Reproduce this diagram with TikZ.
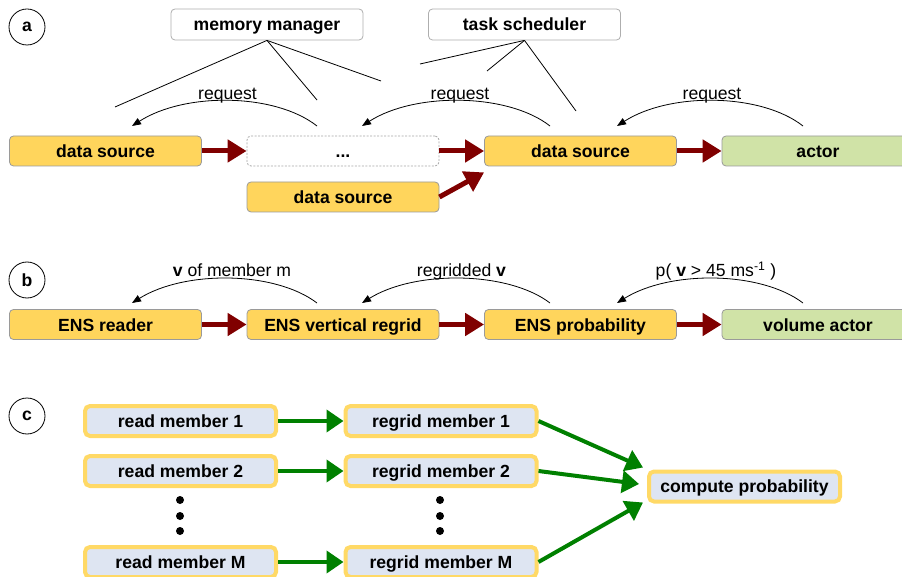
\documentclass[tikz,border=0pt]{standalone}
\usepackage{fontspec}
\setmainfont{Liberation Sans}
\usetikzlibrary{arrows.meta,calc}
\definecolor{boxyellow}{HTML}{FFD55C}
\definecolor{boxgreen}{HTML}{D0E3A7}
\definecolor{cfill}{HTML}{DEE5F2}
\definecolor{cborder}{HTML}{FFD966}
\definecolor{darkred}{HTML}{800000}
\definecolor{arrowgreen}{HTML}{008000}
\definecolor{boxgray}{HTML}{9A9A9A}
\begin{document}
\begin{tikzpicture}[x=1pt,y=-1pt,
 font=\fontsize{17.6}{20}\selectfont,
 every node/.style={inner sep=0pt},
 flowbox/.style={draw=boxgray, line width=0.8pt, rounded corners=4pt, minimum width=192pt, minimum height=30pt, text height=13pt, text depth=0pt, font=\bfseries\fontsize{17.6}{20}\selectfont},
 yelbox/.style={flowbox, fill=boxyellow},
 grnbox/.style={flowbox, fill=boxgreen},
 dotbox/.style={flowbox, fill=white, draw=gray!70, dash pattern=on 2pt off 1.5pt},
 topbox/.style={flowbox, fill=white, minimum height=31pt, draw=boxgray!80},
 membox/.style={draw=cborder, fill=cfill, line width=4pt, rounded corners=5pt, minimum width=191pt, minimum height=30pt, text height=12pt, text depth=0pt, font=\bfseries\fontsize{17.6}{20}\selectfont},
 panel/.style={circle, draw, line width=0.8pt, minimum size=36pt, font=\bfseries\fontsize{17.6}{20}\selectfont},
 flow/.style={draw=darkred, line width=5pt, -{Triangle[length=19pt,width=22pt]}},
 gflow/.style={draw=arrowgreen, line width=4pt, -{Triangle[length=17pt,width=22pt]}},
 req/.style={draw, line width=0.8pt, -{Triangle[length=9pt,width=7pt]}},
 link/.style={draw, line width=0.8pt},
 vdot/.style={circle, fill, minimum size=8pt},
 lbl/.style={anchor=base},
]
\useasboundingbox (0,0) rectangle (902,577);

% ---------- panel a ----------
\node[panel] (pa) at (27,27) {a};
\node[topbox] (mm) at (267,24.5) {memory manager};
\node[topbox] (ts) at (524.5,24.5) {task scheduler};
\coordinate (mm1) at (115,107);
\coordinate (mm2) at (317,100);
\coordinate (mm3) at (381,81);
\coordinate (ts1) at (420,64);
\coordinate (ts2) at (487,71);
\coordinate (ts3) at (576,111);
\draw[link] (mm.south) -- (mm1);
\draw[link] (mm.south) -- (mm2);
\draw[link] (mm.south) -- (mm3);
\draw[link] (ts.south) -- (ts1);
\draw[link] (ts.south) -- (ts2);
\draw[link] (ts.south) -- (ts3);

\coordinate (ra1s) at (317,126);
\coordinate (ra1e) at (132,126);
\coordinate (ra2s) at (550,126);
\coordinate (ra2e) at (362,126);
\coordinate (ra3s) at (803,126);
\coordinate (ra3e) at (617,126);
\draw[req] (ra1s) .. controls +(-42,-33) and +(53,-34) .. (ra1e);
\draw[req] (ra2s) .. controls +(-42,-33) and +(53,-34) .. (ra2e);
\draw[req] (ra3s) .. controls +(-42,-33) and +(53,-34) .. (ra3e);
\node[lbl] (la1) at (227.5,99.5) {request};
\node[lbl] (la2) at (460,99.5) {request};
\node[lbl] (la3) at (712,99.5) {request};

\node[yelbox] (a1) at (105.5,151) {data source};
\node[dotbox] (a2) at (343,151) {...};
\node[yelbox] (a3) at (580.5,151) {data source};
\node[grnbox] (a4) at (818,151) {actor};
\node[yelbox] (a5) at (343,197) {data source};
\draw[flow] (a1.east) -- (a2.west);
\draw[flow] (a2.east) -- (a3.west);
\draw[flow] (a3.east) -- (a4.west);
\draw[flow] (a5.east) -- ([shift={(0,6)}]a3.south west);

% ---------- panel b ----------
\node[panel] (pb) at (27,280) {b};
\coordinate (rb1s) at (317,303);
\coordinate (rb1e) at (132,303);
\coordinate (rb2s) at (550,303);
\coordinate (rb2e) at (362,303);
\coordinate (rb3s) at (803,303);
\coordinate (rb3e) at (617,303);
\draw[req] (rb1s) .. controls +(-42,-32) and +(53,-33) .. (rb1e);
\draw[req] (rb2s) .. controls +(-42,-32) and +(53,-33) .. (rb2e);
\draw[req] (rb3s) .. controls +(-42,-32) and +(53,-33) .. (rb3e);
\node[lbl] (lb1) at (232,276.5) {\textbf{v} of member m};
\node[lbl] (lb2) at (461.5,276.5) {regridded \textbf{v}};
\node[lbl] (lb3) at (716,276.5) {p( \textbf{v} > 45 ms\textsuperscript{-1} )};

\node[yelbox] (b1) at (105.5,324.5) {ENS reader};
\node[yelbox] (b2) at (343,324.5) {ENS vertical regrid};
\node[yelbox] (b3) at (580.5,324.5) {ENS probability};
\node[grnbox] (b4) at (818,324.5) {volume actor};
\draw[flow] (b1.east) -- (b2.west);
\draw[flow] (b2.east) -- (b3.west);
\draw[flow] (b3.east) -- (b4.west);

% ---------- panel c ----------
\node[panel] (pc) at (27,416) {c};
\node[membox] (r1) at (180.5,421) {read member 1};
\node[membox] (r2) at (180.5,471) {read member 2};
\node[membox] (rM) at (180.5,562) {read member M};
\node[membox] (g1) at (441,421) {regrid member 1};
\node[membox] (g2) at (441,471) {regrid member 2};
\node[membox] (gM) at (441,562) {regrid member M};
\node[membox] (cp) at (744.5,486.5) {compute probability};
\node[vdot] (d1) at (180,500) {};
\node[vdot] (d2) at (180,516) {};
\node[vdot] (d3) at (180,531) {};
\node[vdot] (e1) at (440,500) {};
\node[vdot] (e2) at (440,516) {};
\node[vdot] (e3) at (440,531) {};
\draw[gflow] (r1.east) -- (g1.west);
\draw[gflow] (r2.east) -- (g2.west);
\draw[gflow] (rM.east) -- (gM.west);
\draw[gflow] (g1.east) -- ([shift={(-4,-2)}]cp.north west);
\draw[gflow] (g2.east) -- ([shift={(-8,-2.5)}]cp.west);
\draw[gflow] (gM.east) -- ([shift={(-4,-1)}]cp.south west);
\end{tikzpicture}
\end{document}
